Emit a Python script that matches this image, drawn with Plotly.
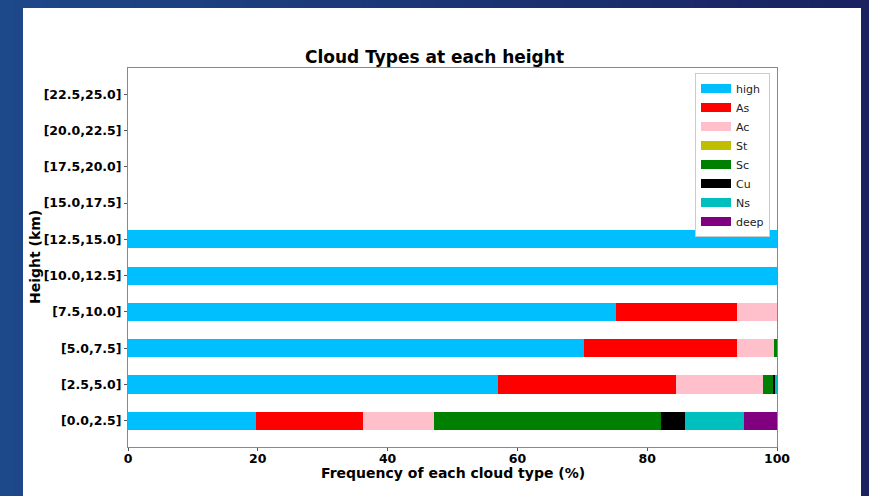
import plotly.graph_objects as go

# Height bins (bottom to top) and cloud-type frequencies (%) per bin
heights = ["[0.0,2.5]", "[2.5,5.0]", "[5.0,7.5]", "[7.5,10.0]", "[10.0,12.5]",
           "[12.5,15.0]", "[15.0,17.5]", "[17.5,20.0]", "[20.0,22.5]", "[22.5,25.0]"]
high = [19.7, 57.0, 70.3, 75.2, 100, 100, 0, 0, 0, 0]
As = [16.5, 27.4, 23.6, 18.6, 0, 0, 0, 0, 0, 0]
Ac = [10.9, 13.5, 5.7, 6.2, 0, 0, 0, 0, 0, 0]
St = [0, 0, 0, 0, 0, 0, 0, 0, 0, 0]
Sc = [35.0, 1.5, 0.4, 0, 0, 0, 0, 0, 0, 0]
Cu = [3.7, 0.4, 0, 0, 0, 0, 0, 0, 0, 0]
Ns = [9.1, 0.2, 0, 0, 0, 0, 0, 0, 0, 0]
deep = [5.1, 0, 0, 0, 0, 0, 0, 0, 0, 0]

series = [("high", high, "#00BFFF"), ("As", As, "#FF0000"), ("Ac", Ac, "#FFC0CB"),
          ("St", St, "#BFBF00"), ("Sc", Sc, "#008000"), ("Cu", Cu, "#000000"),
          ("Ns", Ns, "#00BFBF"), ("deep", deep, "#800080")]

W, H = 869, 496
L, R, T, B = 128, 777, 68, 447  # plot area in pixels


def px(x):
    return (x - L) / (R - L)


def py(y):
    return (B - y) / (B - T)


fig = go.Figure()
for name, vals, col in series:
    fig.add_trace(go.Bar(y=heights, x=vals, name=name, orientation="h", width=0.5,
                         marker=dict(color=col, line=dict(width=0)), showlegend=False))
# legend entries drawn as wide swatches
for name, vals, col in series:
    fig.add_trace(go.Scatter(x=[None], y=[None], mode="lines", name=name,
                             line=dict(color=col, width=9), showlegend=True))

shapes = []
# slide background gradient
n = 60
c0 = (29, 72, 137)
c1 = (26, 34, 96)
x_left, x_right = px(0), px(W)
for i in range(n):
    t = i / (n - 1)
    c = tuple(round(c0[k] + (c1[k] - c0[k]) * t) for k in range(3))
    xa = x_left + (x_right - x_left) * i / n
    xb = x_left + (x_right - x_left) * (i + 1) / n + 0.002
    shapes.append(dict(type="rect", xref="paper", yref="paper", x0=xa, x1=xb,
                       y0=py(H), y1=py(0), fillcolor="rgb(%d,%d,%d)" % c,
                       line=dict(width=0), layer="below"))
# white panel
shapes.append(dict(type="rect", xref="paper", yref="paper", x0=px(23), x1=px(861),
                   y0=py(H + 2), y1=py(8), fillcolor="white", line=dict(width=0),
                   layer="below"))

fig.update_layout(
    width=W, height=H,
    margin=dict(l=L, r=W - R, t=T, b=H - B, pad=0),
    barmode="stack",
    paper_bgcolor="rgb(27,50,115)",
    plot_bgcolor="rgba(0,0,0,0)",
    shapes=shapes,
    font=dict(family="DejaVu Sans", color="black"),
    title=dict(text="Cloud Types at each height", x=px(452.5), xanchor="center",
               y=1 - 57 / H, yanchor="middle",
               font=dict(size=17, family="DejaVu Sans", weight="bold", color="black")),
    legend=dict(x=px(695), y=py(73), xanchor="left", yanchor="top",
                traceorder="normal",
                bgcolor="white", bordercolor="#cccccc", borderwidth=1,
                font=dict(size=11, family="DejaVu Sans", color="#222222"),
                itemwidth=30, tracegroupgap=0),
    xaxis=dict(range=[0, 100], tickvals=[0, 20, 40, 60, 80, 100], showgrid=False,
               zeroline=False, showline=True, mirror=True, linecolor="#888888",
               linewidth=1, ticks="outside", ticklen=3, tickcolor="#555555",
               ticklabelstandoff=-3,
               tickfont=dict(size=12.5, family="DejaVu Sans", weight="bold", color="black")),
    yaxis=dict(type="category", categoryorder="array", categoryarray=heights,
               range=[-0.725, 9.725], showgrid=False, zeroline=False, showline=True,
               mirror=True, linecolor="#888888", linewidth=1, ticks="outside",
               ticklen=3, tickcolor="#555555",
               tickfont=dict(size=12.5, family="DejaVu Sans", weight="bold", color="black")),
    annotations=[
        dict(text="Frequency of each cloud type (%)", xref="paper", yref="paper",
             x=px(452.5), y=py(473), xanchor="center", yanchor="middle", showarrow=False,
             font=dict(size=14, family="DejaVu Sans", weight="bold", color="black")),
        dict(text="Height (km)", xref="paper", yref="paper", x=px(35), y=py(257),
             xanchor="center", yanchor="middle", textangle=-90, showarrow=False,
             font=dict(size=14, family="DejaVu Sans", weight="bold", color="black")),
    ],
)

fig.write_html("out.html")
